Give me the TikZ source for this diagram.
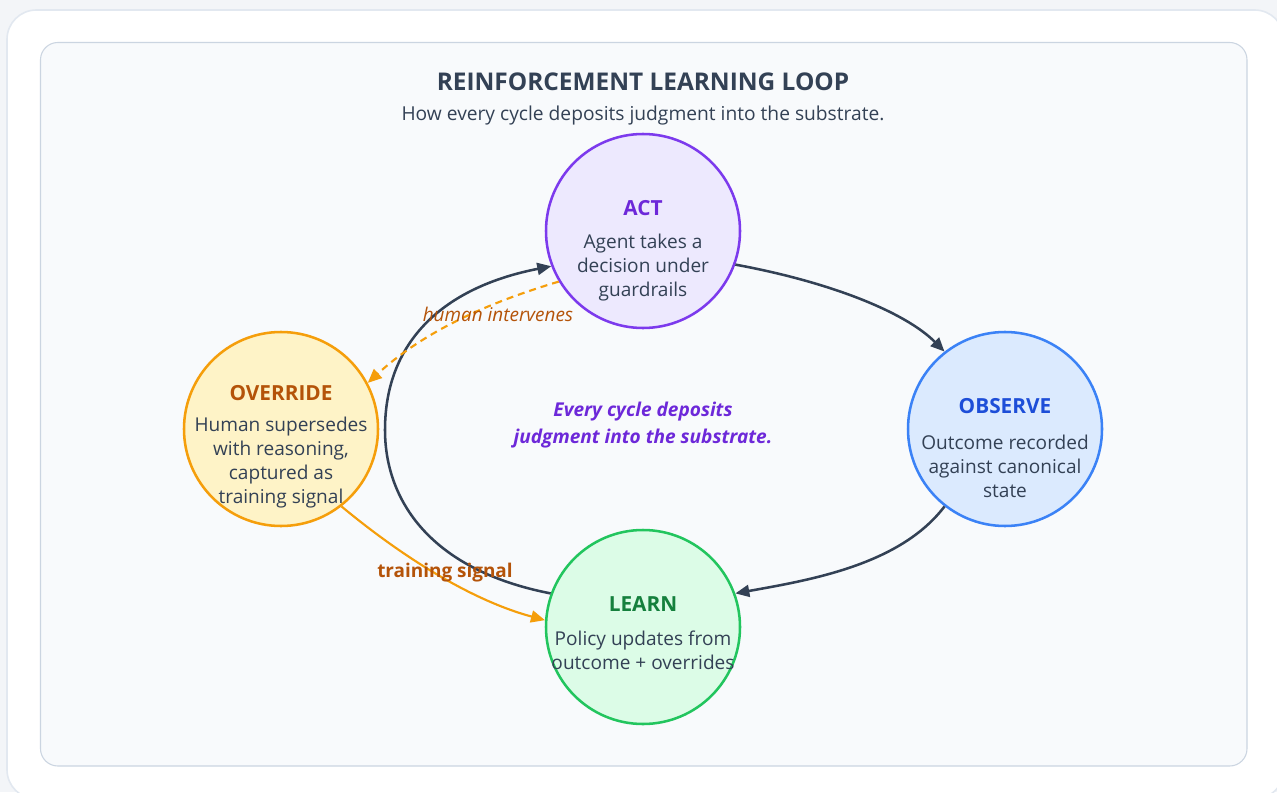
\documentclass[tikz,border=0pt]{standalone}
\usepackage{fontspec}
\setmainfont{Open Sans}
\usetikzlibrary{arrows.meta}
\definecolor{pagebg}{HTML}{F3F5F8}
\definecolor{cardline}{HTML}{E2E8F0}
\definecolor{panelfill}{HTML}{F8FAFC}
\definecolor{panelline}{HTML}{CBD5E1}
\definecolor{ink}{HTML}{334155}
\definecolor{actfill}{HTML}{EDE9FE}
\definecolor{actline}{HTML}{7C3AED}
\definecolor{acttext}{HTML}{6D28D9}
\definecolor{obsfill}{HTML}{DBEAFE}
\definecolor{obsline}{HTML}{3B82F6}
\definecolor{obstext}{HTML}{1D4ED8}
\definecolor{lrnfill}{HTML}{DCFCE7}
\definecolor{lrnline}{HTML}{22C55E}
\definecolor{lrntext}{HTML}{15803D}
\definecolor{ovrfill}{HTML}{FEF3C7}
\definecolor{ovrline}{HTML}{F59E0B}
\definecolor{ovrtext}{HTML}{B45309}
\tikzset{
  circ/.style={circle, minimum size=145.5pt, inner sep=0pt, line width=1.9pt},
  ctitle/.style={font=\fontsize{15.6pt}{17pt}\selectfont\bfseries, inner sep=0pt},
  cbody/.style={font=\fontsize{14.3pt}{18pt}\selectfont, text=ink, align=center, inner sep=0pt},
  darr/.style={draw=ink, line width=1.9pt, -{Triangle[length=10.5pt,width=9pt]}},
  oarr/.style={draw=ovrline, line width=1.6pt, -{Triangle[length=10.5pt,width=9pt]}},
  odash/.style={oarr, dash pattern=on 5.25pt off 3.75pt},
}
\begin{document}
\begin{tikzpicture}[x=0.75pt,y=-0.75pt]
\useasboundingbox (0,0) rectangle (1277,792);
\fill[pagebg] (0,0) rectangle (1277,792);
\draw[cardline, line width=1.2pt, fill=white, rounded corners=22pt] (7,10) rectangle (1284,799);
\draw[panelline, line width=0.8pt, fill=panelfill, rounded corners=13pt] (40.5,42.5) rectangle (1247,766);

\node[font=\fontsize{18.3pt}{21pt}\selectfont\bfseries, text=ink, inner sep=0pt] (title) at (643,82) {REINFORCEMENT LEARNING LOOP};
\node[font=\fontsize{14.4pt}{17pt}\selectfont, text=ink, inner sep=0pt] (sub) at (643,116) {How every cycle deposits judgment into the substrate.};

\node[circ, draw=actline, fill=actfill] (act) at (643,231) {};
\node[circ, draw=obsline, fill=obsfill] (obs) at (1005,429) {};
\node[circ, draw=lrnline, fill=lrnfill] (lrn) at (643,627) {};
\node[circ, draw=ovrline, fill=ovrfill] (ovr) at (281,429) {};

\node[ctitle, text=acttext] (actt) at (643,208) {ACT};
\node[cbody] (actb) at (643,268) {Agent takes a\\decision under\\guardrails};
\node[ctitle, text=obstext] (obst) at (1005,406) {OBSERVE};
\node[cbody] (obsb) at (1005,466) {Outcome recorded\\against canonical\\state};
\node[ctitle, text=lrntext] (lrnt) at (643,604) {LEARN};
\node[cbody] (lrnb) at (643,650) {Policy updates from\\outcome + overrides};
\node[ctitle, text=ovrtext] (ovrt) at (281,393) {OVERRIDE};
\node[cbody] (ovrb) at (281,463) {Human supersedes\\with reasoning,\\captured as\\training signal};

\node[font=\fontsize{14.3pt}{20pt}\selectfont\bfseries\itshape, text=acttext, align=center, inner sep=0pt] (mid) at (643,425) {Every cycle deposits\\judgment into the substrate.};

\draw[darr] (act.-20) .. controls (830,282) and (905,312) .. (obs.128);
\draw[darr] (obs.232) .. controls (900,565) and (810,580) .. (lrn.20);
\draw[darr] (lrn.160) .. controls (430,570) and (385,500) .. (385,430) .. controls (385,340) and (445,287) .. (act.201);
\draw[odash] (act.211) .. controls (480,305) and (420,335) .. (ovr.28);
\draw[oarr] (ovr.308) .. controls (400,555) and (470,600) .. (lrn.176);

\node[font=\fontsize{14.2pt}{15pt}\selectfont\itshape, text=ovrtext, inner sep=0pt] (hint) at (498,314) {human intervenes};
\node[font=\fontsize{14.2pt}{15pt}\selectfont\bfseries, text=ovrtext, inner sep=0pt] (tsig) at (445,573) {training signal};
\end{tikzpicture}
\end{document}
